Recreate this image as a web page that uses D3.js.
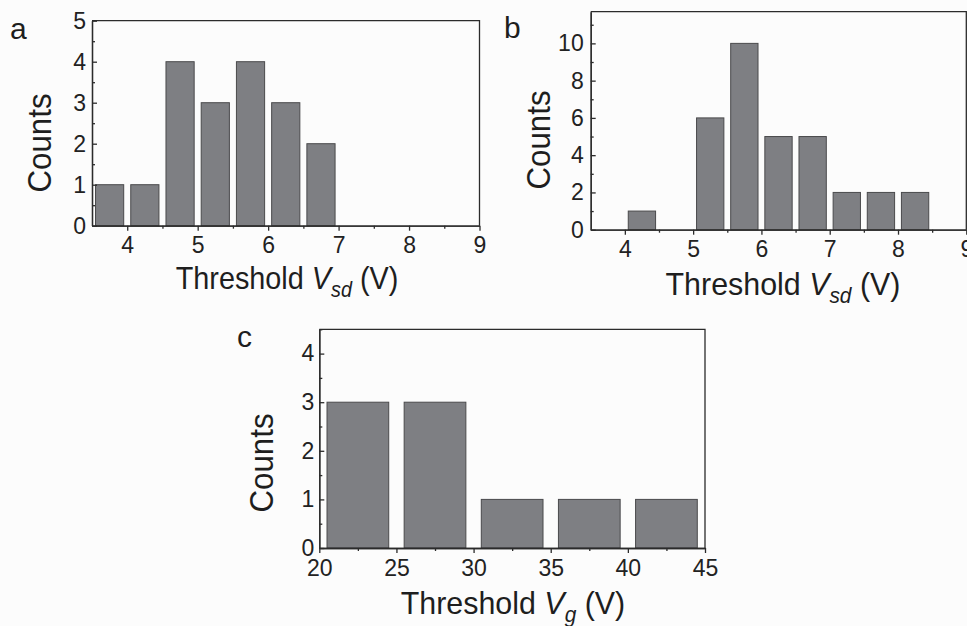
<!DOCTYPE html>
<html>
<head>
<meta charset="utf-8">
<script src="https://cdn.jsdelivr.net/npm/d3@7"></script>
<style>
body { margin: 0; background: #fcfcfc; }
svg { display: block; font-family: "Liberation Sans", Arial, sans-serif; }
.axis path, .axis line { stroke: #2b2b2b; stroke-width: 1.3px; }
.axis text { fill: #222; font-size: 23px; }
</style>
</head>
<body>
<svg id="chart" width="967" height="626"></svg>
<script>
// panel a : threshold Vsd histogram
var binsA = [3.75, 4.25, 4.75, 5.25, 5.75, 6.25, 6.75];
var countsA = [1, 1, 4, 3, 4, 3, 2];
var xTicksA = [4, 5, 6, 7, 8, 9];
var yTicksA = [0, 1, 2, 3, 4, 5];

// panel b : threshold Vsd histogram
var binsB = [4.25, 4.75, 5.25, 5.75, 6.25, 6.75, 7.25, 7.75, 8.25];
var countsB = [1, 0, 6, 10, 5, 5, 2, 2, 2];
var xTicksB = [4, 5, 6, 7, 8, 9];
var yTicksB = [0, 2, 4, 6, 8, 10];

// panel c : threshold Vg histogram
var binsC = [22.5, 27.5, 32.5, 37.5, 42.5];
var countsC = [3, 3, 1, 1, 1];
var xTicksC = [20, 25, 30, 35, 40, 45];
var yTicksC = [0, 1, 2, 3, 4];

var svg = d3.select('#chart');
var fmt = d3.format('d');

function drawPanel(p) {
	var x = d3.scaleLinear().domain(p.xDomain).range([p.left, p.right]);
	var y = d3.scaleLinear().domain(p.yDomain).range([p.bottom, p.top]);
	var g = svg.append('g');

	var data = p.bins.map(function(b, i) { return {c: b, n: p.counts[i]}; })
		.filter(function(d) { return d.n > 0; });

	// bars (80% of bin width)
	g.selectAll('rect').data(data).enter().append('rect')
		.attr('x', function(d) { return x(d.c - p.binW * 0.4); })
		.attr('width', function(d) { return x(d.c + p.binW * 0.4) - x(d.c - p.binW * 0.4); })
		.attr('y', function(d) { return y(d.n); })
		.attr('height', function(d) { return y(0) - y(d.n); })
		.style('fill', '#7e7f83')
		.style('stroke', '#4a4a4c')
		.style('stroke-width', '1px');

	// frame top + right
	g.append('path')
		.attr('d', 'M' + x.range()[0] + ',' + y.range()[1] + 'H' + x.range()[1] + 'V' + y.range()[0])
		.style('fill', 'none')
		.style('stroke', '#2b2b2b')
		.style('stroke-width', '1.3px');

	// minor ticks
	g.append('g').attr('class', 'axis')
		.attr('transform', 'translate(0,' + p.bottom + ')')
		.call(d3.axisBottom(x).tickValues(p.xMinor).tickSize(3).tickSizeOuter(0).tickFormat(''));
	g.append('g').attr('class', 'axis')
		.attr('transform', 'translate(' + p.left + ',0)')
		.call(d3.axisLeft(y).tickValues(p.yMinor).tickSize(-3).tickSizeOuter(0).tickFormat(''));

	// major ticks
	g.append('g').attr('class', 'axis')
		.attr('transform', 'translate(0,' + p.bottom + ')')
		.call(d3.axisBottom(x).tickValues(p.xTicks).tickSize(5).tickSizeOuter(0).tickPadding(p.xPad).tickFormat(fmt));
	g.append('g').attr('class', 'axis')
		.attr('transform', 'translate(' + p.left + ',0)')
		.call(d3.axisLeft(y).tickValues(p.yTicks).tickSize(-5).tickSizeOuter(0).tickPadding(p.yPad).tickFormat(fmt));

	// y title
	g.append('text')
		.attr('transform', 'translate(' + p.yTitle[0] + ',' + p.yTitle[1] + ') rotate(-90) scale(0.92,1)')
		.attr('text-anchor', 'middle')
		.attr('dy', '0.35em')
		.style('font-size', '34px')
		.style('fill', '#1e1e1e')
		.text('Counts');

	// x title (slightly condensed like the original)
	var t = g.append('text')
		.attr('transform', 'translate(' + p.xTitle[0] + ',' + p.xTitle[1] + ') scale(' + p.squeeze + ',1)')
		.attr('text-anchor', 'middle')
		.style('font-size', '32px')
		.style('fill', '#1e1e1e');
	t.append('tspan').text('Threshold ');
	t.append('tspan').style('font-style', 'italic').text('V');
	t.append('tspan').style('font-style', 'italic').style('font-size', '22px').attr('dy', 8).text(p.sub);
	t.append('tspan').attr('dy', -8).text(' (V)');

	// panel letter
	g.append('text')
		.attr('x', p.letter[0])
		.attr('y', p.letter[1])
		.style('font-size', '30px')
		.style('fill', '#1e1e1e')
		.text(p.name);
}

drawPanel({
	name: 'a', bins: binsA, counts: countsA, binW: 0.5,
	xDomain: [3.5, 9], yDomain: [0, 5],
	left: 92, right: 479.5, top: 20.7, bottom: 225.7,
	xTicks: xTicksA, yTicks: yTicksA,
	xMinor: [4.5, 5.5, 6.5, 7.5, 8.5], yMinor: [0.5, 1.5, 2.5, 3.5, 4.5],
	xPad: 5.5, yPad: 6, sub: 'sd', squeeze: 0.9,
	yTitle: [39, 143], xTitle: [287, 289], letter: [10, 39]
});

drawPanel({
	name: 'b', bins: binsB, counts: countsB, binW: 0.5,
	xDomain: [3.5, 9], yDomain: [0, 11.7],
	left: 590.7, right: 966.3, top: 11.7, bottom: 229.7,
	xTicks: xTicksB, yTicks: yTicksB,
	xMinor: [4.5, 5.5, 6.5, 7.5, 8.5], yMinor: [1, 3, 5, 7, 9, 11],
	xPad: 5.5, yPad: 7, sub: 'sd', squeeze: 0.95,
	yTitle: [538, 140], xTitle: [783, 295], letter: [504, 38]
});

drawPanel({
	name: 'c', bins: binsC, counts: countsC, binW: 5,
	xDomain: [20, 45], yDomain: [0, 4.5],
	left: 319.3, right: 705, top: 329.3, bottom: 548,
	xTicks: xTicksC, yTicks: yTicksC,
	xMinor: [22.5, 27.5, 32.5, 37.5, 42.5], yMinor: [0.5, 1.5, 2.5, 3.5, 4.5],
	xPad: 6.5, yPad: 5, sub: 'g', squeeze: 0.95,
	yTitle: [261, 463], xTitle: [513, 614], letter: [237, 347]
});
</script>
</body>
</html>
